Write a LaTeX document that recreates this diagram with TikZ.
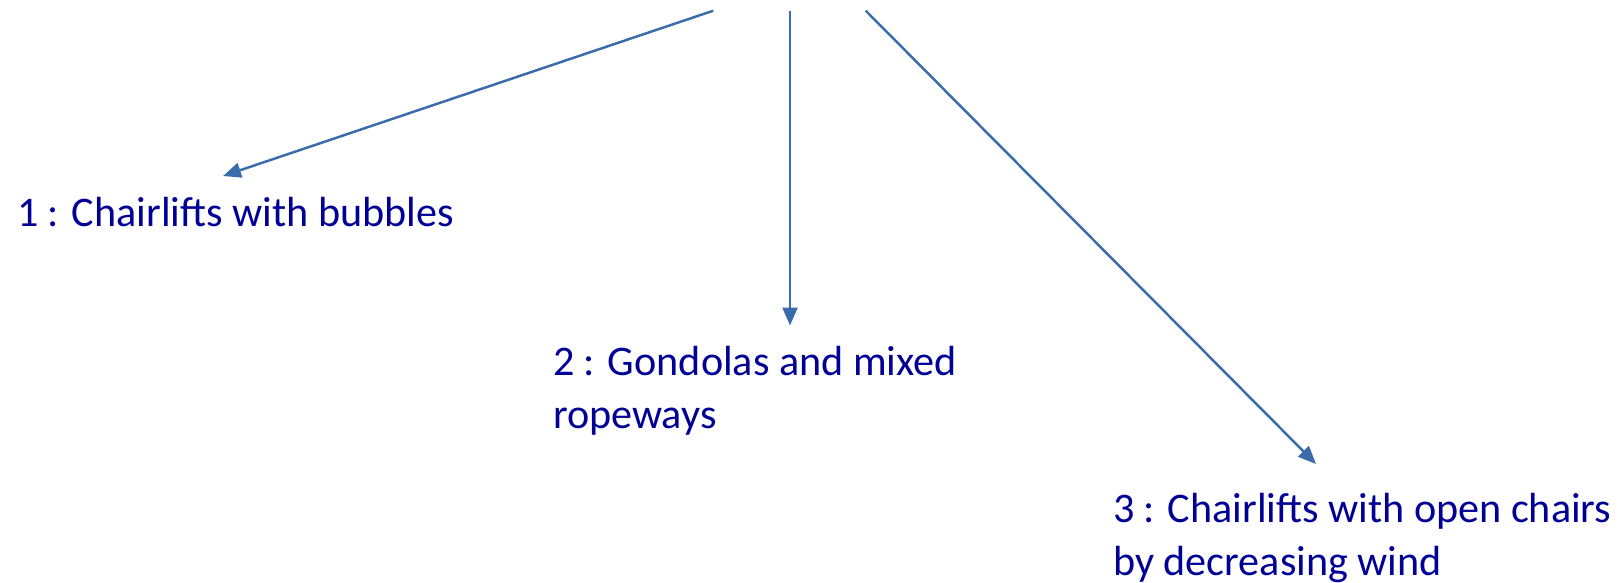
\documentclass[tikz,border=0pt]{standalone}
\usepackage{fontspec}
\setmainfont{Carlito}
\usepackage{tikz}
\usetikzlibrary{arrows.meta,positioning}
\definecolor{arrowblue}{RGB}{58,107,170}
\definecolor{textblue}{RGB}{0,0,150}
\tikzset{
    liftlabel/.style={anchor=base west, inner sep=0pt, align=left, text=textblue, font=\fontsize{24}{30}\selectfont},
    liftarrow/.style={draw=arrowblue, line width=1.4pt, -{Triangle[length=0.36cm, width=0.30cm]}},
}

\begin{document}
\begin{tikzpicture}[x=0.02cm, y=0.02cm]
    \useasboundingbox (0,0) rectangle (1619,582);

    % Labels (base = baseline of last line)
    \node[liftlabel] (chair) at (16.7, 355) {1 : Chairlifts with bubbles};
    \node[liftlabel] (gond) at (552.7, 154) {2 : Gondolas and mixed\\ropeways};
    \node[liftlabel] (open) at (1112.7, 7) {3 : Chairlifts with open chairs\\by decreasing wind};

    % Start and end points
    \coordinate (s1) at (713.3, 571.3);
    \coordinate (s2) at (790, 571.3);
    \coordinate (s3) at (865.7, 571.3);
    \coordinate (e1) at (223, 406);
    \coordinate (e2) at (790, 256.5);
    \coordinate (e3) at (1316, 118);

    \draw[liftarrow] (s1) -- (e1);
    \draw[liftarrow] (s2) -- (e2);
    \draw[liftarrow] (s3) -- (e3);
\end{tikzpicture}
\end{document}
